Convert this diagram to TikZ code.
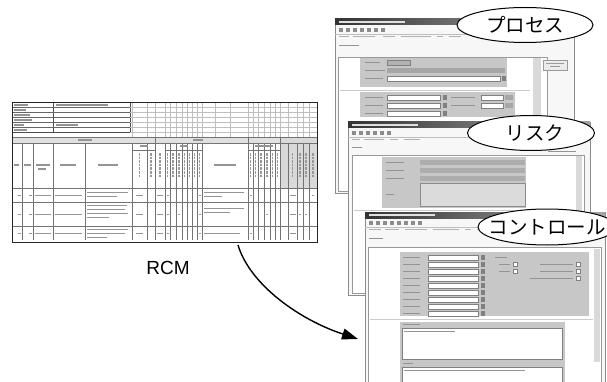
\documentclass[tikz,border=0pt]{standalone}
\usepackage{fontspec}
\setmainfont{Liberation Sans}
\newfontfamily\jafont{Noto Sans CJK JP}
\usetikzlibrary{shapes.geometric,arrows.meta}

\begin{document}
\begin{tikzpicture}[x=1pt,y=-1pt,
    bubble/.style={draw, fill=white, line width=1pt},
    tag/.style={inner sep=0pt, font=\jafont\fontsize{19.5}{20}\selectfont},
    txt/.style={fill=black!42},
    faint/.style={draw=black!25, line width=.3pt},
    grid/.style={draw=black!55, line width=.35pt},
    vtxt/.style={draw=black!40, line width=1.3pt, dash pattern=on 2.6pt off 1pt},
    win/.style={draw=black!45, fill=black!3, line width=.6pt},
    bar/.style={left color=black!80, right color=black!35},
    field/.style={draw=black!50, fill=white, line width=.3pt},
    panel/.style={fill=black!22}]
    \useasboundingbox (0,0) rectangle (607,382);

    % RCM sheet
    \draw[black!70, line width=.5pt] (12,102) rectangle (130,132);
    \draw[black!70, line width=.4pt] (53,102) -- (53,132);
    \foreach \y in {107,112,117,122,127} \draw[black!60, line width=.3pt] (12,\y) -- (130,\y);
    \foreach \y/\w in {103/14, 108/12, 113/16, 118/18, 123/10, 128/13} \fill[txt] (14,\y+1.2) rectangle (14+\w,\y+2.6);
    \fill[txt] (56,104.2) rectangle (108,105.6);
    \fill[txt] (56,124.2) rectangle (78,125.6);
    \foreach \c in {132,147,155,165,170,176,182,187,192,197,202,215,230,248,253,258,264,270,275,280,288,297,303,309}
        \draw[faint] (\c,102) -- (\c,137);
    \foreach \y in {107,112,117,122,127,132} \draw[faint] (130,\y) -- (317,\y);
    \fill[black!12] (12,137) rectangle (317,143);
    \fill[black!15] (280,137) rectangle (317,188);
    \foreach \y in {137,143,188,202,226} \draw[grid] (12,\y) -- (317,\y);
    \foreach \c in {22,33,53,85,132,147,165,170,176,182,187,192,197,202,253,258,264,270,275,288,297,303,309}
        \draw[grid] (\c,143) -- (\c,240);
    \foreach \c in {155,248,280} \draw[grid] (\c,137) -- (\c,240);
    \draw[grid] (132,150) -- (155,150) (165,150) -- (202,150) (248,150) -- (280,150);
    % header marks
    \fill[txt] (78,139.4) rectangle (92,140.7);
    \fill[txt] (193,139.4) rectangle (203,140.7);
    \fill[txt] (140,145.3) rectangle (148,146.6);
    \fill[txt] (180,145.3) rectangle (188,146.6);
    \fill[txt] (255,145.3) rectangle (273,146.6);
    \foreach \a/\b in {14/19, 24/31, 36/50, 60/76, 98/118, 214/236}
        \fill[txt] (\a,164.5) rectangle (\b,165.8);
    \fill[txt] (38,168.5) rectangle (46,169.8);
    \foreach \c in {139.5,151,160,167.5,173,179,184.5,189.5,194.5,199.5,250.5,255.5,261,267,272.5,277.5,292.5,300,306,313}
        \draw[vtxt] (\c,153) -- (\c,178);
    % rows
    \foreach \m in {194.5,213.5,232.5} {
        \fill[txt] (18,\m) rectangle (21,\m+1.3);
        \fill[txt] (29,\m) rectangle (32,\m+1.3);
        \fill[txt] (35,\m) rectangle (51,\m+1.3);
        \fill[txt] (55,\m) rectangle (82,\m+1.3);
        \fill[txt] (136,\m) rectangle (143,\m+1.3);
        \fill[txt] (157,\m) rectangle (163,\m+1.3);
        \fill[txt] (166.5,\m) rectangle (168.5,\m+1.3);
        \fill[txt] (198.5,\m) rectangle (200.5,\m+1.3);
        \fill[txt] (290,\m) rectangle (296,\m+1.3);
    }
    \foreach \y/\w in {192/41, 196/30, 205/40, 209/38, 213/41, 217/22, 229/41, 233/38, 237/20}
        \fill[txt] (87,\y) rectangle (87+\w,\y+1.3);
    \foreach \y/\w in {192/40, 196/18, 208/40, 212/26, 232.5/36}
        \fill[txt] (204,\y) rectangle (204+\w,\y+1.3);
    \foreach \c/\y in {249.5/194.5, 249.5/232.5, 178/213.5, 266/213.5, 299/213.5, 305/213.5, 312/194.5}
        \fill[txt] (\c,\y) rectangle (\c+2,\y+1.3);
    \node (tab) [draw=black!85, line width=1.3pt, minimum width=305pt, minimum height=140pt, inner sep=0pt, anchor=north west] at (12,102) {};

    \node (rcm) at (168,268) {\fontsize{19}{20}\selectfont RCM};

    % process window
    \begin{scope}[shift={(335,19)}]
        \draw[win] (0,0) rectangle (239,174);
        \shade[bar] (0,0) rectangle (239,6);
        \fill[black!12] (4,2) rectangle (70,3.6);
        \foreach \i in {0,...,6} \fill[black!45] (4+\i*7,9) rectangle (8+\i*7,13);
        \draw[black!25] (0,15) -- (239,15);
        \foreach \a/\b in {4/14, 18/40, 48/60, 66/96, 102/108, 114/126} \fill[black!30] (\a,17) rectangle (\b,18.4);
        \fill[txt] (4,26) rectangle (24,27.4);
        \draw[black!40, fill=white, line width=.4pt] (3,38) rectangle (212,172);
        \fill[black!15] (198,39) rectangle (206,171);
        \fill[panel] (25,39) rectangle (172,68);
        \foreach \y/\w in {43/15, 51/20, 59/18} \fill[txt] (30,\y) rectangle (30+\w,\y+1.4);
        \draw[black!50, fill=black!30, line width=.3pt] (52,41) rectangle (75,46);
        \fill[black!35] (52,49) rectangle (170,54);
        \draw[field] (52,57) rectangle (165,62);
        \fill[black!50] (167,57) rectangle (171,62);
        \draw[black!20] (5,71) -- (195,71);
        \fill[panel] (25,73) rectangle (180,98);
        \foreach \y in {76,84,92} {
            \fill[txt] (30,\y+1.8) rectangle (48,\y+3.2);
            \draw[field] (52,\y) rectangle (105,\y+5);
            \fill[black!50] (108,\y) rectangle (112,\y+5);
        }
        \foreach \y in {76,84} {
            \fill[txt] (116,\y+1.8) rectangle (140,\y+3.2);
            \draw[field] (146,\y) rectangle (168,\y+5);
            \fill[black!35] (170,\y) rectangle (178,\y+5);
        }
        \draw[black!40, fill=black!8, line width=.4pt] (208,41) rectangle (232,51);
        \fill[black!40] (211,44) rectangle (229,45.2);
        \fill[black!40] (215,47) rectangle (225,48.2);
    \end{scope}

    % risk window
    \begin{scope}[shift={(348,122)}]
        \draw[win] (0,0) rectangle (242,173);
        \shade[bar] (0,0) rectangle (242,6);
        \fill[black!12] (4,2) rectangle (70,3.6);
        \foreach \i in {0,...,5} \fill[black!45] (4+\i*7,9) rectangle (8+\i*7,13);
        \draw[black!25] (0,15) -- (242,15);
        \foreach \a/\b in {4/12, 16/36, 42/50, 56/72} \fill[black!30] (\a,17) rectangle (\b,18.4);
        \fill[txt] (4,25) rectangle (14,26.4);
        \fill[txt] (186,22) rectangle (198,23.4);
        \fill[txt] (200,29) rectangle (228,30.4);
        \draw[black!40, fill=white, line width=.4pt] (4,33) rectangle (236,171);
        \fill[black!15] (228,34) rectangle (234,170);
        \fill[panel] (34,35) rectangle (178,86);
        \foreach \y in {38,46,54} {
            \fill[txt] (38,\y+1.8) rectangle (56,\y+3.2);
            \fill[black!32] (72,\y) rectangle (177,\y+5);
        }
        \draw[black!45, fill=black!14, line width=.3pt] (72,61) rectangle (177,84);
        \fill[txt] (38,72) rectangle (46,73.4);
        \draw[black!20] (6,88) -- (226,88);
    \end{scope}

    % control window
    \begin{scope}[shift={(365,212)}]
        \draw[win] (0,0) rectangle (240,180);
        \shade[bar] (0,0) rectangle (240,6);
        \fill[black!12] (4,2) rectangle (70,3.6);
        \foreach \i in {0,...,7} \fill[black!45] (4+\i*7,9) rectangle (8+\i*7,13);
        \draw[black!25] (0,15) -- (240,15);
        \foreach \a/\b in {4/16, 20/34, 40/62, 68/94, 100/106, 112/122} \fill[black!30] (\a,17) rectangle (\b,18.4);
        \fill[txt] (4,26) rectangle (18,27.4);
        \draw[black!40, fill=white, line width=.4pt] (3,35) rectangle (236,180);
        \fill[black!15] (229,37) rectangle (235,150);
        \fill[panel] (35,40) rectangle (224,104);
        \foreach \k in {0,...,8} {
            \fill[txt] (38,43+7*\k+1.8) rectangle (55,43+7*\k+3.2);
            \draw[field] (63,43+7*\k) rectangle (113,43+7*\k+5);
            \fill[black!50] (116,43+7*\k) rectangle (120,43+7*\k+5);
        }
        \fill[txt] (130,44.5) rectangle (142,45.9);
        \foreach \y in {50,57} {
            \fill[txt] (134,\y+1.5) rectangle (145,\y+2.9);
            \draw[field] (148,\y) rectangle (152,\y+4);
            \fill[txt] (175,\y+1.5) rectangle (208,\y+2.9);
            \draw[field] (211,\y) rectangle (215,\y+4);
        }
        \fill[txt] (165,65.5) rectangle (208,66.9);
        \draw[field] (211,64) rectangle (215,68);
        \draw[black!20] (5,107) -- (228,107);
        \fill[panel] (35,110) rectangle (200,180);
        \fill[txt] (38,111.6) rectangle (55,113);
        \draw[field] (37,116) rectangle (197,147);
        \fill[txt] (39,119) rectangle (90,120.3);
        \fill[txt] (38,150.6) rectangle (48,152);
        \draw[field] (37,155) rectangle (197,182);
        \fill[txt] (39,158) rectangle (160,159.3);
    \end{scope}

    % labels
    \coordinate (pc) at (525,25);
    \draw[bubble] (pc) ellipse [x radius=68, y radius=17.5];
    \node (process) [tag] at (pc) {プロセス};
    \coordinate (rc) at (531,133);
    \draw[bubble] (rc) ellipse [x radius=63.5, y radius=17.5];
    \node (risk) [tag] at ([xshift=4pt]rc) {リスク};
    \coordinate (cc) at (547,227);
    \draw[bubble] (cc) ellipse [x radius=69, y radius=18];
    \node (control) [tag] at (cc) {コントロール};

    % arrow
    \coordinate (arrowstart) at (238,245);
    \coordinate (arrowend) at (358,339);
    \draw[line width=1.4pt, -{Triangle[length=16pt,width=11pt]}] (arrowstart) .. controls (250,285) and (300,320) .. (arrowend);
\end{tikzpicture}
\end{document}
